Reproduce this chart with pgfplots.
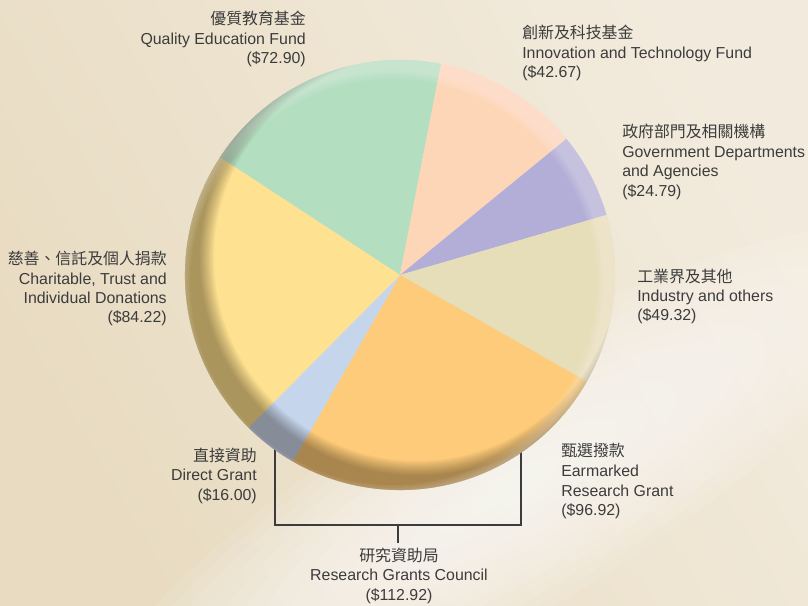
\documentclass[border=0pt]{standalone}
\usepackage{fontspec}
\setmainfont{Liberation Sans}
\newfontfamily\cjk{Noto Sans CJK TC}
\usepackage{pgfplots}
\usepackage{pgfplotstable}
\pgfplotsset{compat=1.18}

\definecolor{bgA}{HTML}{E8DBC1}
\definecolor{bgB}{HTML}{F2EBDD}
\definecolor{txt}{HTML}{3C3C3C}
\definecolor{cGreen}{HTML}{B4DEC0}
\definecolor{cPeach}{HTML}{FDD6B8}
\definecolor{cLav}{HTML}{B3AED8}
\definecolor{cBeige}{HTML}{E6DDB9}
\definecolor{cOrange}{HTML}{FDCB79}
\definecolor{cBlue}{HTML}{C5D5EC}
\definecolor{cYellow}{HTML}{FEE291}

% values in clockwise order starting with Quality Education Fund
\pgfplotstableread{
value
72.90
42.67
24.79
49.32
96.92
16.00
84.22
}\piedata

\pgfmathsetmacro\total{0}%
\pgfplotsforeachungrouped \i in {0,...,6}{%
  \pgfplotstablegetelem{\i}{value}\of\piedata
  \pgfmathsetmacro\total{\total+\pgfplotsretval}%
}%
\pgfmathsetmacro\cur{146.85}%
\pgfplotsforeachungrouped \i in {0,...,6}{%
  \pgfplotstablegetelem{\i}{value}\of\piedata
  \pgfmathsetmacro\nxt{\cur-\pgfplotsretval/\total*360}%
  \expandafter\xdef\csname ang\i\endcsname{\cur}%
  \let\cur\nxt
}%
\expandafter\xdef\csname ang7\endcsname{\cur}%
\def\angof#1{\csname ang#1\endcsname}

\newcommand\slice[3]{%
  \fill[#3] (axis cs:400,330) -- ++(\angof{#1}:5.375cm)
    arc[start angle=\angof{#1}, end angle=\angof{#2}, radius=5.375cm] -- cycle;}
\newcommand\lbl[4]{%
  \node[anchor=base #3, inner sep=0pt, text=txt,
        font=\fontsize{11.3}{13.5}\selectfont] at (axis cs:#1,{605-#2}) {#4};}

\begin{document}
\begin{tikzpicture}
\begin{axis}[
  x=0.025cm, y=0.025cm,
  xmin=0, xmax=808, ymin=0, ymax=605,
  hide axis, clip=true,
]
% background
\shade[left color=bgA, right color=bgB, shading angle=120]
  (axis cs:0,0) rectangle (axis cs:808,605);
\pgfplotsinvokeforeach{1,...,14}{%
  \fill[white, opacity=0.085, rotate around={31:(axis cs:500,110)}]
    (axis cs:500,110) ellipse[x radius={#1*0.85cm}, y radius={#1*0.22cm}];
}
\coordinate (BL) at (rel axis cs:0,0);
\coordinate (TR) at (rel axis cs:1,1);

% bracket for Research Grants Council
\draw[txt, line width=1pt]
  (axis cs:275,{605-440}) -- (axis cs:275,{605-525})
  -- (axis cs:521,{605-525}) -- (axis cs:521,{605-440});
\draw[txt, line width=1pt] (axis cs:398,{605-525}) -- (axis cs:398,{605-543});

% pie slices
\slice{0}{1}{cGreen}
\slice{1}{2}{cPeach}
\slice{2}{3}{cLav}
\slice{3}{4}{cBeige}
\slice{4}{5}{cOrange}
\slice{5}{6}{cBlue}
\slice{6}{7}{cYellow}

% bevel shading of the rim
\pgfplotsinvokeforeach{0,...,11}{%
  \begin{scope}
    \clip (axis cs:400,330) circle[radius=5.375cm];
    \fill[black!85!brown, opacity=0.036, even odd rule]
      (axis cs:400,330) circle[radius=5.6cm]
      (axis cs:417,347) circle[radius={(203+1.3*#1)*0.025cm}];
  \end{scope}
}
\pgfplotsinvokeforeach{0,...,5}{%
  \begin{scope}
    \clip (axis cs:400,330) circle[radius=5.375cm];
    \fill[white, opacity=0.05, even odd rule]
      (axis cs:400,330) circle[radius=5.6cm]
      (axis cs:393,323) circle[radius={(203+1.5*#1)*0.025cm}];
  \end{scope}
}

% labels
\lbl{306}{25}{east}{{\cjk 優質教育基金}}
\lbl{306}{45}{east}{Quality Education Fund}
\lbl{306}{64}{east}{(\$72.90)}

\lbl{522}{39}{west}{{\cjk 創新及科技基金}}
\lbl{522}{59}{west}{Innovation and Technology Fund}
\lbl{522}{78}{west}{(\$42.67)}

\lbl{622}{138}{west}{{\cjk 政府部門及相關機構}}
\lbl{622}{157.5}{west}{Government Departments}
\lbl{622}{177}{west}{and Agencies}
\lbl{622}{196.5}{west}{(\$24.79)}

\lbl{167}{265}{east}{{\cjk 慈善、信託及個人捐款}}
\lbl{167}{285}{east}{Charitable, Trust and}
\lbl{167}{304}{east}{Individual Donations}
\lbl{167}{323}{east}{(\$84.22)}

\lbl{637}{283}{west}{{\cjk 工業界及其他}}
\lbl{637}{302}{west}{Industry and others}
\lbl{637}{321}{west}{(\$49.32)}

\lbl{561}{457}{west}{{\cjk 甄選撥款}}
\lbl{561}{476.5}{west}{Earmarked}
\lbl{561}{496}{west}{Research Grant}
\lbl{561}{515.5}{west}{(\$96.92)}

\lbl{257}{462}{east}{{\cjk 直接資助}}
\lbl{257}{481}{east}{Direct Grant}
\lbl{257}{500}{east}{(\$16.00)}

\lbl{399}{561}{}{{\cjk 研究資助局}}
\lbl{399}{580}{}{Research Grants Council}
\lbl{399}{600}{}{(\$112.92)}
\end{axis}
\pgfresetboundingbox
\useasboundingbox (BL) rectangle (TR);
\end{tikzpicture}
\end{document}
